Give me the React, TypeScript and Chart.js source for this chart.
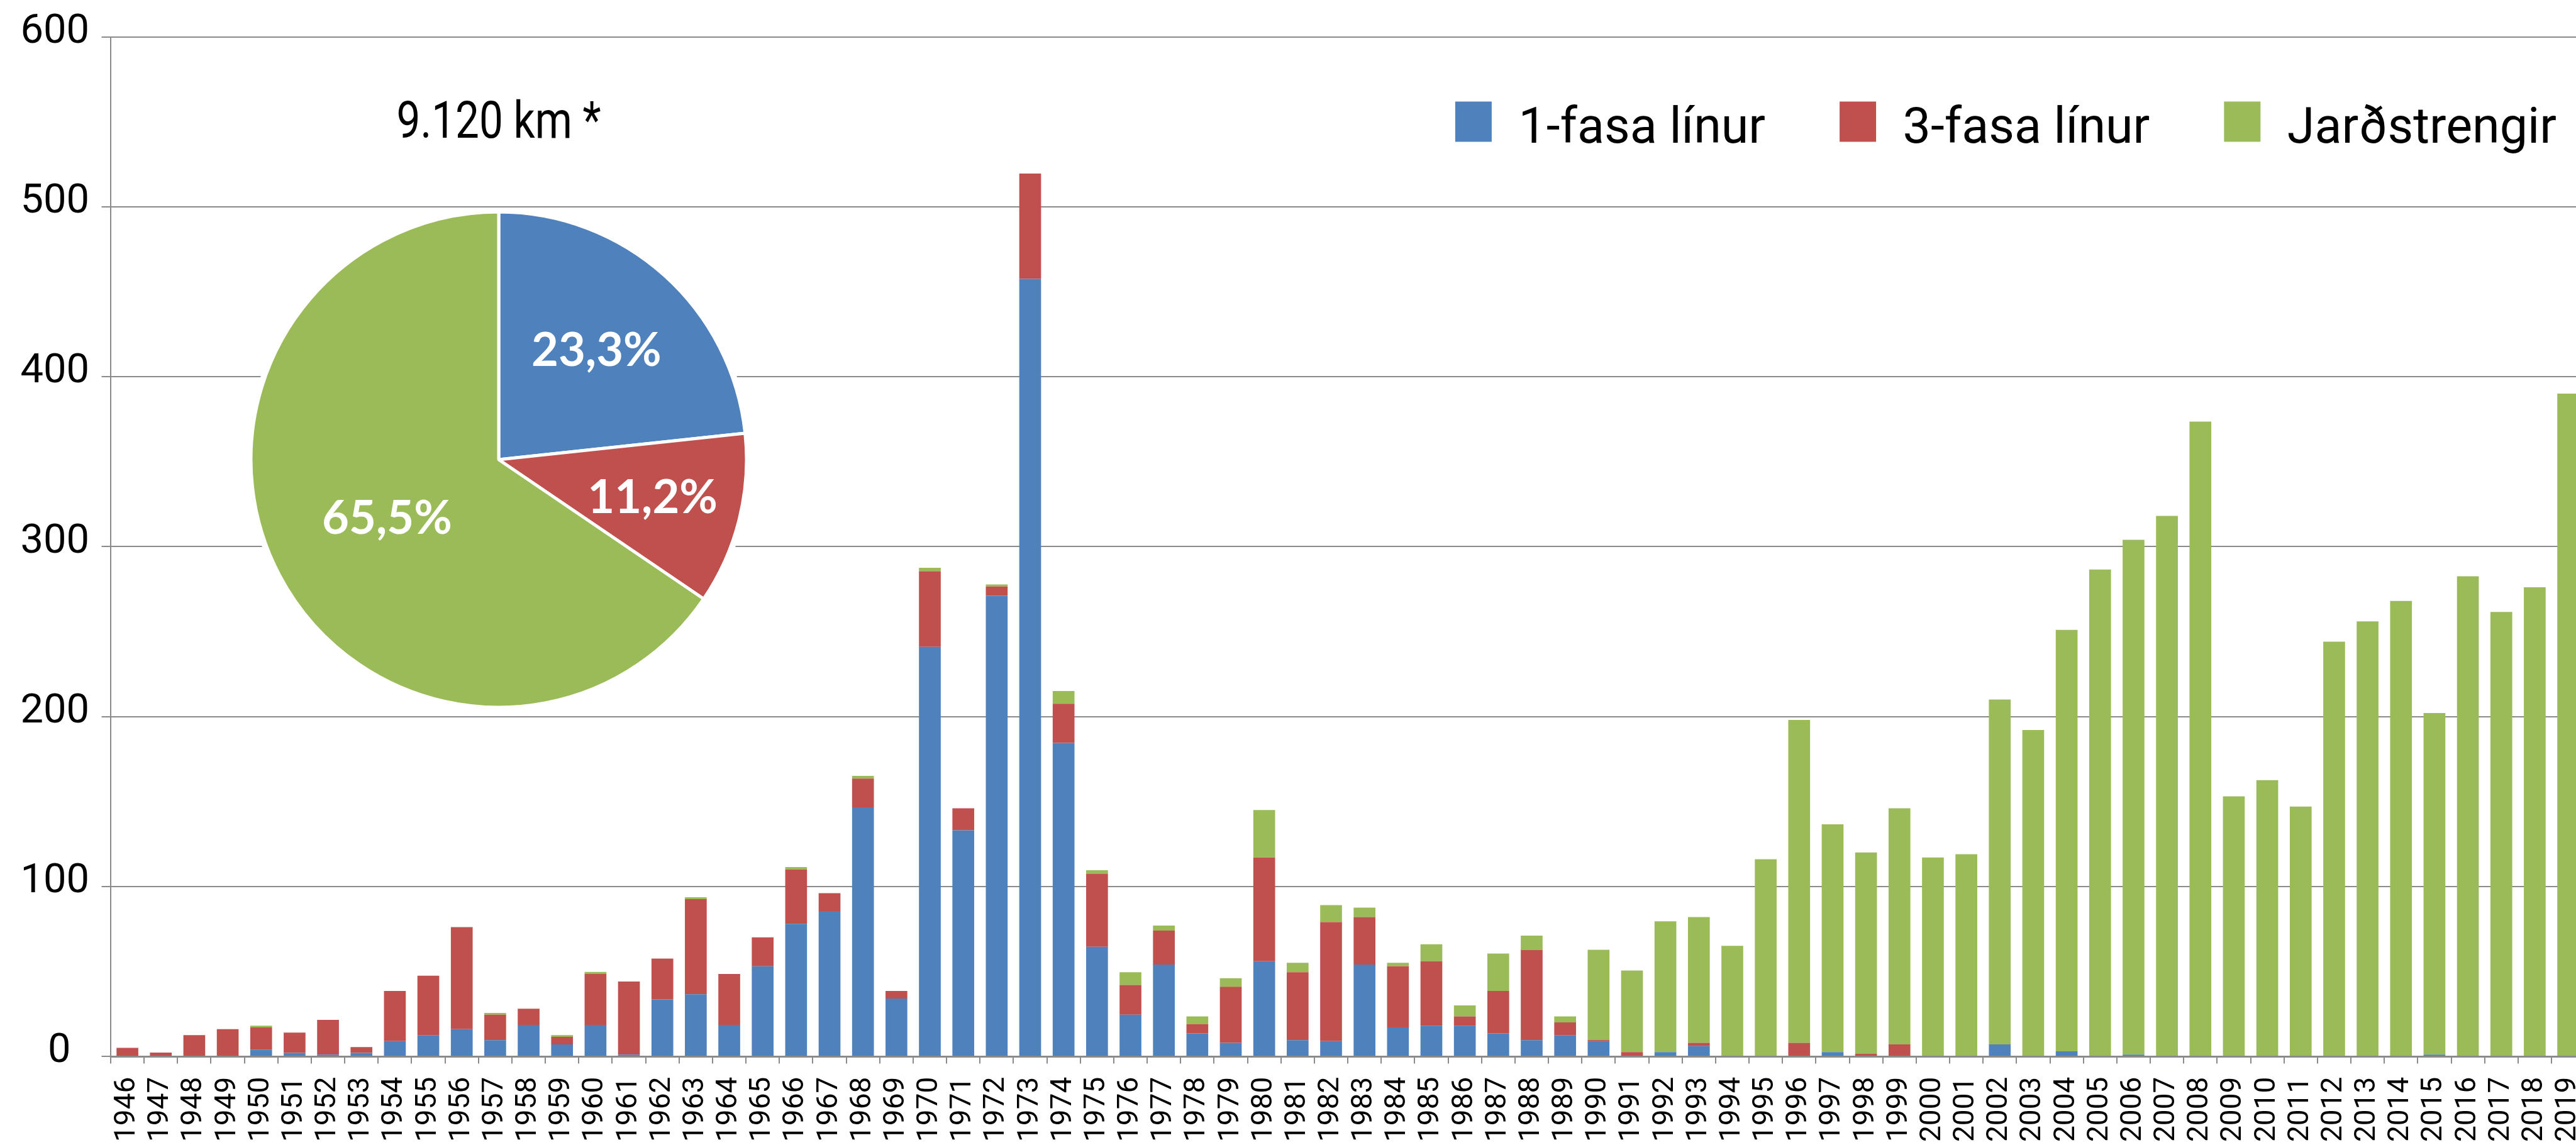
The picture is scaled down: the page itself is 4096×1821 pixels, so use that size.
import React, { useEffect, useRef } from 'react';
import { Chart, registerables } from 'chart.js';

Chart.register(...registerables);

// ---------- data ----------
const years = [
  '1946', '1947', '1948', '1949', '1950', '1951', '1952', '1953', '1954', '1955',
  '1956', '1957', '1958', '1959', '1960', '1961', '1962', '1963', '1964', '1965',
  '1966', '1967', '1968', '1969', '1970', '1971', '1972', '1973', '1974', '1975',
  '1976', '1977', '1978', '1979', '1980', '1981', '1982', '1983', '1984', '1985',
  '1986', '1987', '1988', '1989', '1990', '1991', '1992', '1993', '1994', '1995',
  '1996', '1997', '1998', '1999', '2000', '2001', '2002', '2003', '2004', '2005',
  '2006', '2007', '2008', '2009', '2010', '2011', '2012', '2013', '2014', '2015',
  '2016', '2017', '2018', '2019',
];

const einfasaLinur = [
  0, 0, 0, 0, 4, 2, 1, 2, 9, 12.5,
  16, 9.5, 18.5, 7, 18.5, 1, 33.5, 36.5, 18.5, 53,
  78, 85.5, 146.5, 34, 241, 133, 271, 457.5, 184.5, 64.5,
  24.5, 54, 13.5, 8, 56, 9.5, 9, 54, 17, 18,
  18, 13.5, 9.5, 12.5, 9, 0, 2.5, 6, 0, 0,
  0, 2.5, 0, 0, 0, 0, 7, 0, 3, 0,
  1, 0, 0, 0, 0, 0, 0, 0, 0, 1,
  0, 0, 0, 0,
];

const thrifasaLinur = [
  5, 2.2, 12.5, 16, 13, 12, 20.5, 3.5, 29.5, 35,
  60, 15, 9.5, 4.5, 30, 43, 24, 56, 30, 17,
  32, 10.5, 17, 4.5, 44.5, 13, 5.5, 62, 23, 43,
  17.5, 20, 5.5, 33, 61, 40, 70, 28, 36, 38,
  5.5, 25, 53, 7.5, 0.7, 2.5, 0, 2, 0, 0,
  8, 0, 1.5, 7, 0, 0, 0, 0, 0, 0,
  0, 0, 0, 0, 0, 0, 0, 0, 0, 0,
  0, 0, 0, 0,
];

const jardstrengir = [
  0, 0, 0, 0, 1, 0, 0, 0, 0, 0,
  0, 1, 0, 1, 1.2, 0, 0, 1.1, 0, 0,
  1.4, 0, 1.5, 0, 2, 0, 1.2, 0, 7.5, 2,
  7.5, 3, 4.5, 5, 28, 5.5, 10, 5.5, 2, 10,
  6.5, 22, 8.5, 3.5, 53, 48, 77, 74, 65, 116,
  190, 134, 118.5, 139, 117, 119, 203, 192, 248, 286.5,
  303, 318, 373.5, 153, 162.5, 147, 244, 256, 268, 201,
  282.5, 261.5, 276, 390,
];

const seriesNames = ['1-fasa línur', '3-fasa línur', 'Jarðstrengir'];
const pieShares = [23.3, 11.2, 65.5];
const totalLabel = '9.120 km *';
const yMin = 0;
const yMax = 600;
const yStep = 100;

// ---------- styles ----------
const seriesColors = ['#4F81BD', '#C0504D', '#9BBB59'];
const GRID = '#8a8a8a';
const FONT = 'Roboto';
const PIE_FONT = 'Lato';
const pieLabelRadius = [0.59, 0.64, 0.51];

const insetLegendPlugin = {
  id: 'insetLegend',
  afterDraw(chart: any, _args: any, opts: any) {
    const ctx = chart.ctx as CanvasRenderingContext2D;
    ctx.save();
    ctx.font = `${opts.fontSize}px ${opts.family}`;
    ctx.textAlign = 'left';
    ctx.textBaseline = 'alphabetic';
    const items = chart.data.datasets.map((ds: any) => ({ text: ds.label, color: ds.backgroundColor }));
    const pos: { textX: number; boxX: number }[] = [];
    let x = opts.right;
    for (let i = items.length - 1; i >= 0; i--) {
      const w = ctx.measureText(items[i].text).width;
      const textX = x - w;
      const boxX = textX - opts.gap - opts.boxWidth;
      pos[i] = { textX, boxX };
      x = boxX - opts.itemGap;
    }
    items.forEach((it: any, i: number) => {
      ctx.fillStyle = it.color;
      ctx.fillRect(pos[i].boxX, opts.boxTop, opts.boxWidth, opts.boxHeight);
      ctx.fillStyle = opts.color;
      ctx.fillText(it.text, pos[i].textX, opts.baseline);
    });
    ctx.restore();
  },
};

const pieHaloPlugin = {
  id: 'pieHalo',
  beforeDatasetsDraw(chart: any, _args: any, opts: any) {
    const arc = chart.getDatasetMeta(0).data[0];
    if (!arc) return;
    const { x, y, outerRadius } = arc.getProps(['x', 'y', 'outerRadius'], true);
    const ctx = chart.ctx as CanvasRenderingContext2D;
    ctx.save();
    ctx.fillStyle = '#ffffff';
    ctx.beginPath();
    ctx.arc(x, y, outerRadius + opts.extra, 0, Math.PI * 2);
    ctx.fill();
    ctx.restore();
  },
};

const pieLabelsPlugin = {
  id: 'pieLabels',
  afterDatasetsDraw(chart: any, _args: any, opts: any) {
    const ctx = chart.ctx as CanvasRenderingContext2D;
    const values = chart.data.datasets[0].data as number[];
    ctx.save();
    ctx.font = `bold ${opts.fontSize}px ${opts.family}`;
    ctx.fillStyle = opts.color;
    ctx.textAlign = 'center';
    ctx.textBaseline = 'middle';
    chart.getDatasetMeta(0).data.forEach((arc: any, i: number) => {
      const { x, y, startAngle, endAngle, outerRadius } = arc.getProps(
        ['x', 'y', 'startAngle', 'endAngle', 'outerRadius'],
        true
      );
      const mid = (startAngle + endAngle) / 2;
      const r = outerRadius * opts.radius[i];
      const text = values[i].toFixed(1).replace('.', ',') + '%';
      ctx.fillText(text, x + Math.cos(mid) * r, y + Math.sin(mid) * r);
    });
    ctx.restore();
  },
};

export default function App() {
  const barRef = useRef<HTMLCanvasElement>(null);
  const pieRef = useRef<HTMLCanvasElement>(null);

  useEffect(() => {
    const seriesData = [einfasaLinur, thrifasaLinur, jardstrengir];
    const bar = new Chart(barRef.current as HTMLCanvasElement, {
      type: 'bar',
      data: {
        labels: years,
        datasets: seriesNames.map((name, i) => ({
          label: name,
          data: seriesData[i],
          backgroundColor: seriesColors[i],
          borderWidth: 0,
          barPercentage: 0.652,
          categoryPercentage: 1,
        })),
      },
      options: {
        responsive: false,
        maintainAspectRatio: false,
        animation: false,
        devicePixelRatio: 1,
        layout: { padding: { left: 0, top: 55, right: 32.4, bottom: 0 } },
        plugins: {
          legend: { display: false },
          tooltip: { enabled: false },
          // @ts-ignore
          insetLegend: {
            right: 4065,
            gap: 42.5,
            itemGap: 118,
            boxWidth: 58,
            boxHeight: 64,
            boxTop: 161.5,
            baseline: 227,
            fontSize: 79,
            family: FONT,
            color: '#000000',
          },
        },
        scales: {
          x: {
            stacked: true,
            offset: true,
            grid: {
              offset: true,
              drawOnChartArea: false,
              drawTicks: true,
              tickLength: 11.6,
              color: GRID,
              lineWidth: 2,
            },
            border: { display: true, color: GRID, width: 3 },
            ticks: {
              autoSkip: false,
              minRotation: 90,
              maxRotation: 90,
              padding: 21,
              color: '#000000',
              font: { family: FONT, size: 46 },
            },
            afterFit: (s: any) => {
              s.height = 141;
            },
          },
          y: {
            stacked: true,
            min: yMin,
            max: yMax,
            grid: {
              color: GRID,
              lineWidth: 2,
              drawTicks: true,
              tickLength: 14.5,
            },
            border: { display: true, color: GRID, width: 2 },
            ticks: {
              stepSize: yStep,
              padding: 19.5,
              labelOffset: -7,
              color: '#000000',
              font: { family: FONT, size: 65 },
              callback: (v: any) => (Number(v) === 0 ? '0 \u2009' : String(v)),
            },
            afterFit: (s: any) => {
              s.width = 176;
            },
          },
        },
      },
      plugins: [insetLegendPlugin],
    } as any);

    const pie = new Chart(pieRef.current as HTMLCanvasElement, {
      type: 'pie',
      data: {
        labels: seriesNames,
        datasets: [
          {
            data: pieShares,
            backgroundColor: seriesColors,
            borderColor: '#ffffff',
            borderWidth: 5,
            clip: false,
          },
        ],
      },
      options: {
        responsive: false,
        maintainAspectRatio: false,
        animation: false,
        devicePixelRatio: 1,
        radius: 394,
        layout: { padding: { left: 237.5, right: 237.5, top: 0, bottom: 0 } },
        plugins: {
          legend: { display: false },
          tooltip: { enabled: false },
          title: {
            display: true,
            text: totalLabel,
            align: 'start',
            color: '#000000',
            font: { family: FONT, size: 82, weight: 'normal', lineHeight: 1.2 },
            padding: { top: 49.5, bottom: 14.1 },
          },
          // @ts-ignore
          pieHalo: { extra: 7 },
          // @ts-ignore
          pieLabels: { fontSize: 74, family: PIE_FONT, color: '#ffffff', radius: pieLabelRadius },
        },
      },
      plugins: [pieHaloPlugin, pieLabelsPlugin],
    } as any);

    let alive = true;
    if ((document as any).fonts && (document as any).fonts.ready) {
      (document as any).fonts.ready.then(() => {
        if (alive) {
          bar.update();
          pie.update();
        }
      });
    }
    return () => {
      alive = false;
      bar.destroy();
      pie.destroy();
    };
  }, []);

  return (
    <div
      style={{
        position: 'fixed',
        left: 0,
        top: 0,
        width: 4096,
        height: 1821,
        overflow: 'hidden',
        background: '#ffffff',
      }}
    >
      <canvas
        ref={barRef}
        width={4160}
        height={1821}
        style={{ position: 'absolute', left: 0, top: 0, width: 4160, height: 1821 }}
      />
      <canvas
        ref={pieRef}
        width={800}
        height={1100}
        style={{ position: 'absolute', left: 393, top: 100, width: 800, height: 1100 }}
      />
    </div>
  );
}
